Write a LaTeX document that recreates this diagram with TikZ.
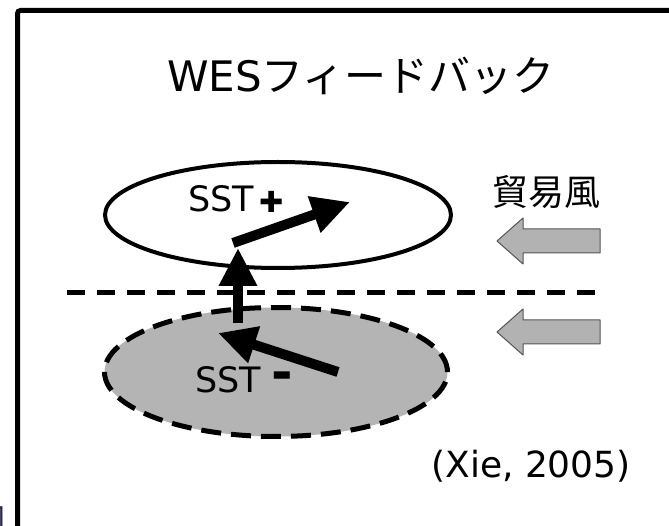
\documentclass[tikz,border=0pt]{standalone}
\usepackage{fontspec}
\setmainfont{DejaVu Sans}
\newfontfamily\cjk{Noto Sans CJK JP}
\usetikzlibrary{arrows.meta,shapes.geometric}
\definecolor{sstgray}{RGB}{180,180,180}
\definecolor{windgray}{RGB}{178,178,178}
\definecolor{windedge}{RGB}{85,85,85}
\definecolor{fragink}{RGB}{40,40,80}
\begin{document}
\begin{tikzpicture}[x=1pt,y=-1pt,
  bigarrow/.style={line width=10pt, -{Triangle[length=38pt,width=36pt]}},
  windarrow/.style={fill=windgray, draw=windedge, line width=1pt, line join=round},
  lbl/.style={inner sep=0pt, anchor=base west, font=\fontsize{35}{35}\selectfont},
  sign/.style={inner sep=0pt, anchor=base, font=\bfseries\fontsize{#1}{#1}\selectfont}]
\useasboundingbox (0,0) rectangle (669,526);
\clip (0,0) rectangle (669,526);
\fill[white] (0,0) rectangle (669,526);
% frame
\draw[line width=5pt, rounded corners=3pt] (17.5,580) -- (17.5,10.5) -- (720,10.5);
% fragment of a figure caption at the lower left
\node[inner sep=0pt, anchor=base east, text=fragink, font=\cjk\fontsize{30}{30}\selectfont] (frag) at (6,530) {図};
% title
\node[inner sep=0pt, anchor=base, font=\fontsize{42}{42}\selectfont] (title) at (361,92) {WES{\cjk フィードバック}};
% ellipses
\node[ellipse, draw, line width=4pt, fill=white, minimum width=346pt, minimum height=106pt, inner sep=0pt] (warm) at (278,215) {};
\node[ellipse, draw, line width=5pt, dash pattern=on 20pt off 10pt, fill=sstgray, minimum width=343pt, minimum height=129pt, inner sep=0pt] (cool) at (276,372) {};
% equator
\coordinate (eqW) at (67,293);
\coordinate (eqE) at (606,293);
\draw[line width=5pt, dash pattern=on 18pt off 12pt] (eqW) -- (eqE);
% labels
\node[lbl] (sstp) at (188,212) {SST};
\node[inner sep=0pt, font=\fontsize{29}{29}\selectfont] (plus) at (272,202) {✚};
\node[lbl] (sstm) at (195,392) {SST};
\node[sign=52] (minus) at (282,390) {-};
% arrows
\coordinate (a1s) at (233,243);
\coordinate (a1e) at (350,202);
\coordinate (a2s) at (238,323);
\coordinate (a2e) at (238,248);
\coordinate (a3s) at (338,372);
\coordinate (a3e) at (218,333);
\draw[bigarrow] (a1s) -- (a1e);
\draw[bigarrow] (a3s) -- (a3e);
\draw[bigarrow] (a2s) -- (a2e);
% trade winds
\node[inner sep=0pt, anchor=base, font=\cjk\fontsize{36}{36}\selectfont] (trade) at (546,206) {貿易風};
\foreach \yc/\nm in {241/w1, 332/w2}{
  \coordinate (\nm) at (497,\yc);
  \draw[windarrow] (\nm) -- ++(26,-23) -- ++(0,11) -- ++(77,0) -- ++(0,24) -- ++(-77,0) -- ++(0,11) -- cycle;
}
% citation
\node[inner sep=0pt, anchor=base, font=\fontsize{36}{36}\selectfont] (cite) at (531,477) {(Xie, 2005)};
\end{tikzpicture}
\end{document}
